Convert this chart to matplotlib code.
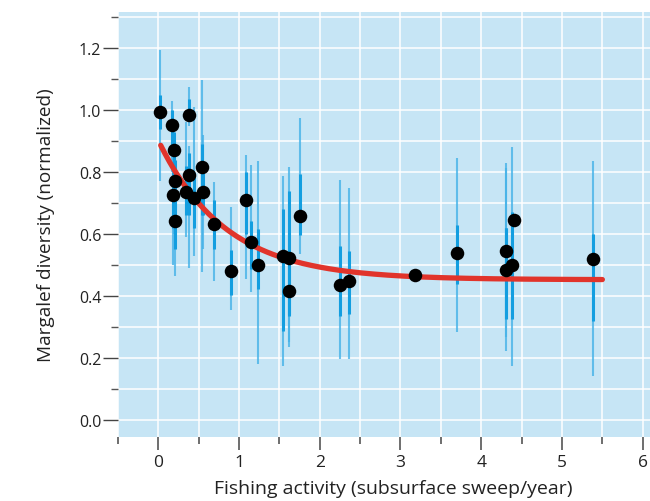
import numpy as np
import matplotlib
matplotlib.use('Agg')
import matplotlib.pyplot as plt
from matplotlib.ticker import MultipleLocator

# fishing activity (x) and normalized Margalef diversity (y)
fishing = [0.02, 0.17, 0.38, 0.19, 0.21, 0.18, 0.21, 0.38, 0.34, 0.44,
           0.545, 0.55, 0.69, 1.09, 1.76, 1.145, 0.90, 1.24, 1.54, 1.62,
           1.62, 2.25, 2.36, 3.185, 3.70, 4.305, 4.305, 4.38, 4.41, 5.39]
diversity = [0.995, 0.951, 0.985, 0.870, 0.770, 0.726, 0.641, 0.790, 0.735, 0.717,
             0.816, 0.735, 0.632, 0.708, 0.659, 0.575, 0.480, 0.499, 0.528, 0.523,
             0.417, 0.436, 0.449, 0.468, 0.538, 0.546, 0.484, 0.499, 0.646, 0.519]

# outer (thin) and inner (thick) error ranges; nan = no bar drawn
outer_lo = [0.77, 0.80, 0.95, 0.60, 0.55, 0.50, 0.465, 0.49, 0.59, 0.53,
            0.476, 0.55, 0.449, 0.455, 0.535, 0.412, 0.355, 0.18, 0.174, 0.234,
            0.25, 0.196, 0.196, np.nan, 0.284, 0.223, 0.266, 0.174, np.nan, 0.14]
outer_hi = [1.195, 1.03, 1.075, 0.97, 0.90, 0.88, 0.79, 0.885, 0.96, 1.01,
            1.098, 0.92, 0.769, 0.856, 0.974, 0.823, 0.688, 0.835, 0.788, 0.815,
            0.60, 0.775, 0.748, np.nan, 0.845, 0.813, 0.829, 0.88, np.nan, 0.834]
inner_lo = [0.94, 0.87, 0.98, 0.76, 0.68, 0.62, 0.55, 0.66, 0.66, 0.62,
            0.66, 0.66, 0.552, 0.60, 0.595, 0.487, 0.403, 0.422, 0.288, 0.336,
            0.34, 0.336, 0.341, np.nan, 0.438, 0.325, 0.33, 0.325, np.nan, 0.32]
inner_hi = [1.05, 1.00, 1.035, 0.93, 0.84, 0.80, 0.72, 0.86, 0.82, 0.80,
            0.89, 0.80, 0.708, 0.80, 0.794, 0.642, 0.548, 0.616, 0.681, 0.74,
            0.52, 0.562, 0.546, np.nan, 0.629, 0.618, 0.62, 0.671, np.nan, 0.60]

# exponential fit y = a + b*exp(-c*x), drawn from 0.03 to 5.5
fit_a, fit_b, fit_c = 0.452, 0.45, 1.2
fit_range = (0.03, 5.5)

x = np.array(fishing)
y = np.array(diversity)
olo, ohi = np.array(outer_lo), np.array(outer_hi)
ilo, ihi = np.array(inner_lo), np.array(inner_hi)
has_bar = ~np.isnan(olo)

plt.rcParams['font.family'] = ['Open Sans', 'DejaVu Sans']

fig = plt.figure(figsize=(6.5, 5.02), dpi=100)
ax = fig.add_axes([0.181, 0.128, 0.819, 0.847])
ax.set_facecolor('#c6e5f5')

ax.vlines(x[has_bar], olo[has_bar], ohi[has_bar], color='#45b2e8', lw=1.5, alpha=0.8, zorder=2)
ax.vlines(x[has_bar], ilo[has_bar], ihi[has_bar], color='#139ee0', lw=2.2, zorder=3)

xf = np.linspace(fit_range[0], fit_range[1], 300)
ax.plot(xf, fit_a + fit_b * np.exp(-fit_c * xf), color='#e1342b', lw=3.8,
        solid_capstyle='round', zorder=4)

ax.scatter(x, y, s=95, color='black', zorder=5, linewidths=0)

ax.set_xlim(-0.503, 6.09)
ax.set_ylim(-0.055, 1.318)

ax.xaxis.set_major_locator(MultipleLocator(1))
ax.xaxis.set_minor_locator(MultipleLocator(0.5))
ax.yaxis.set_major_locator(MultipleLocator(0.2))
ax.yaxis.set_minor_locator(MultipleLocator(0.1))
ax.set_yticks(np.arange(0, 1.21, 0.2))
ax.set_yticklabels(['%.1f' % v for v in np.arange(0, 1.21, 0.2)])
ax.set_xticks(range(0, 7))

ax.grid(True, which='both', color='white', lw=1.1)
ax.set_axisbelow(True)
for s in ax.spines.values():
    s.set_visible(False)

ax.tick_params(axis='x', which='major', length=9.5, width=1.2, color='#555555',
               labelsize=12.5, pad=3, labelcolor='#222222')
ax.tick_params(axis='x', which='minor', length=5, width=1.2, color='#555555')
ax.tick_params(axis='y', which='major', length=10.8, width=1.0, color='#444444',
               labelsize=11.5, pad=1, labelcolor='#222222')
ax.tick_params(axis='y', which='minor', length=5, width=1.0, color='#555555')

ax.set_xlabel('Fishing activity (subsurface sweep/year)', fontsize=14, color='#222222')
ax.set_ylabel('Margalef diversity (normalized)', fontsize=13.7, color='#222222', labelpad=17)
ax.xaxis.set_label_coords(0.517, -0.1)
ax.xaxis.label.set_va('top')

fig.savefig('out.png', dpi=100)
